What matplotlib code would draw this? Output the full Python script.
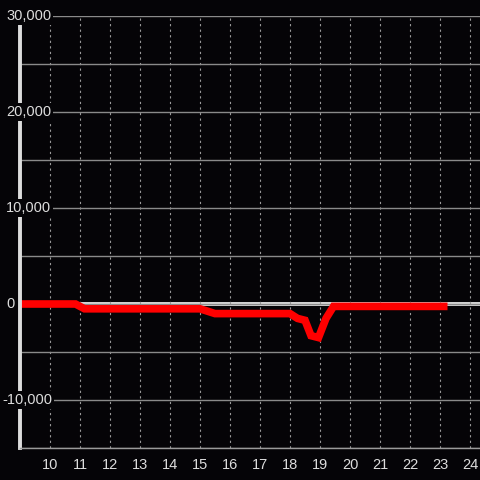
import matplotlib.pyplot as plt
from matplotlib.ticker import MultipleLocator

# data (hour of day vs value)
hours = [9, 10.85, 11.15, 15.0, 15.5, 18.0, 18.25, 18.5, 18.7, 18.95, 19.2, 19.45, 23.25]
values = [0, 0, -500, -500, -1000, -1000, -1500, -1700, -3300, -3500, -1500, -250, -250]

x_ticks = list(range(10, 25))
y_ticks = [30000, 20000, 10000, 0, -10000]
y_labels = ['30,000', '20,000', '10,000', '0', '-10,000']

bg = '#050407'
fg = '#dddddd'
plt.rcParams['font.family'] = ['Liberation Sans', 'DejaVu Sans']

fig = plt.figure(figsize=(4.8, 4.8), dpi=100, facecolor=bg)
ax = fig.add_axes([20 / 480, 32 / 480, 460 / 480, 432 / 480], facecolor=bg)

ax.set_xlim(9, 24.333)
ax.set_ylim(-15000, 30000)

# grid
ax.yaxis.set_major_locator(MultipleLocator(5000))
ax.set_xticks(x_ticks)
ax.grid(axis='y', color='#8a8a8a', linewidth=1, linestyle='-', zorder=0)
ax.grid(axis='x', color='#9a9a9a', linewidth=0.8, linestyle=(0, (2, 3)), zorder=0)

# zero line
ax.axhline(0, color=fg, linewidth=2.8, zorder=1)

# series
ax.plot(hours, values, color='#ff0000', linewidth=5.5, solid_joinstyle='miter',
        solid_capstyle='butt', clip_on=False, zorder=2)

# spines
for s in ['top', 'right']:
    ax.spines[s].set_visible(False)
ax.spines['left'].set_color(fg)
ax.spines['left'].set_linewidth(2.8)
ax.spines['bottom'].set_color('#9a9a9a')
ax.spines['bottom'].set_linewidth(1)

ax.tick_params(axis='x', length=0, pad=7, colors=fg, labelsize=10.5)
ax.tick_params(axis='y', length=0, labelleft=False)

# y labels sit over the axis line with a dark box behind them
trans = ax.get_yaxis_transform()
for v, lab in zip(y_ticks, y_labels):
    x0 = -0.039 if lab.startswith('-') else -0.03
    ax.text(x0, v, lab, transform=trans, ha='left', va='center',
            color=fg, fontsize=10.5, clip_on=False, zorder=5,
            bbox=dict(facecolor=bg, edgecolor='none', pad=1.5))

fig.savefig('out.png', dpi=100, facecolor=bg)
